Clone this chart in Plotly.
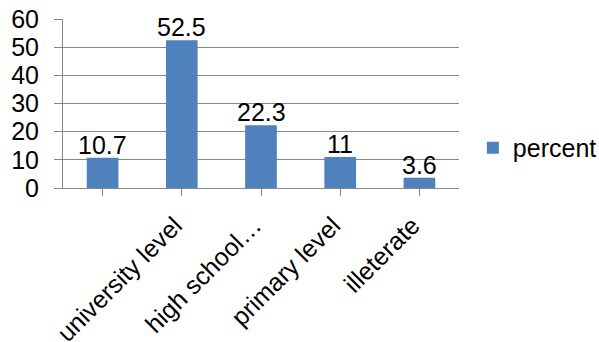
import plotly.graph_objects as go

categories = ["", "university level", "high school…", "primary level", "illeterate"]
values = [10.7, 52.5, 22.3, 11, 3.6]
labels = ["10.7", "52.5", "22.3", "11", "3.6"]
series_name = "percent"
y_ticks = [0, 10, 20, 30, 40, 50, 60]

FONT = "Liberation Sans, Arial, sans-serif"
FS = 25
x_pos = list(range(len(categories)))

fig = go.Figure()
fig.add_trace(go.Bar(
    x=x_pos, y=values, name=series_name,
    marker=dict(color="#4F81BD", line=dict(width=0)),
    showlegend=True, cliponaxis=False,
))
for xi, v, t in zip(x_pos, values, labels):
    fig.add_annotation(x=xi, y=v, xref="x", yref="y", text=t, showarrow=False,
                       yanchor="bottom", xanchor="center", yshift=-3,
                       font=dict(size=FS, color="black", family=FONT))

fig.update_layout(
    width=599, height=342,
    margin=dict(l=63, r=140, t=19, b=154, autoexpand=False),
    paper_bgcolor="white", plot_bgcolor="white",
    font=dict(family=FONT, size=FS, color="black"),
    bargap=0.6,
    showlegend=True,
    legend=dict(x=1.035, xanchor="left", y=0.237, yanchor="middle",
                font=dict(size=FS), itemwidth=30, bgcolor="rgba(0,0,0,0)"),
)
fig.update_xaxes(
    tickmode="array", tickvals=x_pos, ticktext=categories,
    range=[-0.5, len(categories) - 0.5], automargin=False,
    tickangle=-45, showgrid=False, showline=True, linecolor="#868686", linewidth=1,
    ticks="outside", tickson="boundaries", ticklen=7, tickcolor="#868686",
    tickfont=dict(size=FS), ticklabelstandoff=5, ticklabelshift=-7,
)
fig.update_yaxes(
    range=[0, 60], tickvals=y_ticks, showgrid=True, gridcolor="#868686", gridwidth=1,
    showline=True, linecolor="#868686", linewidth=1, ticks="outside", ticklen=8,
    tickcolor="#868686", tickfont=dict(size=FS), zeroline=False, automargin=False,
    ticklabelstandoff=10,
)
fig.write_html("out.html")
